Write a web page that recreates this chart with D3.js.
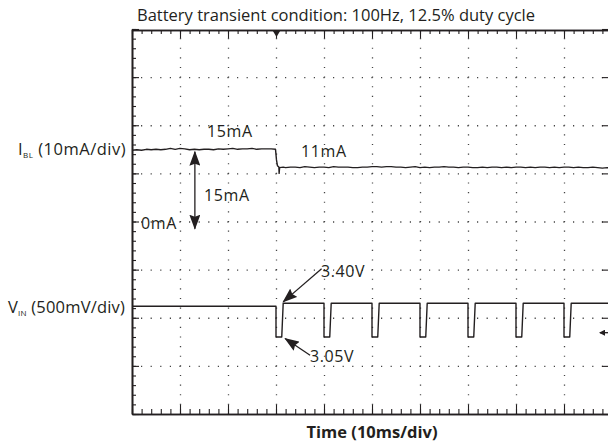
<!DOCTYPE html>
<html lang="en">
<head>
<meta charset="UTF-8">
<title>Battery transient condition</title>
<script src="https://d3js.org/d3.v7.min.js"></script>
<style>
    body { margin: 0; background: #fff; }
    svg text { font-family: "Open Sans", sans-serif; font-size: 16.5px; fill: #231f20; }
    .note { font-size: 16px; letter-spacing: 0.6px; }
    .chan { letter-spacing: 0.5px; }
    .frame path.domain { stroke: #231f20; stroke-width: 1.6; }
    .frame line { stroke: #231f20; stroke-width: 1.1; }
    .grid line { stroke: #444; stroke-width: 1.3; }
    .trace { fill: none; stroke: #231f20; stroke-width: 1.4; stroke-linejoin: round; }
    .arrow { stroke: #231f20; stroke-width: 1.3; fill: none; }
</style>
</head>
<body>
<svg id="scope" width="608" height="446"></svg>
<script>
// time base: 10ms/div, 10 divisions
const timeTicks = [0, 10, 20, 30, 40, 50, 60, 70, 80, 90, 100];
// vertical divisions, -4 .. +4
const divTicks = [-4, -3, -2, -1, 0, 1, 2, 3, 4];

// I_BL trace, [time ms, current mA] (10mA/div)
const currentTrace = [
    [0, 14.8], [1, 14.9], [2, 14.8], [3, 15.0], [4, 14.9], [5, 15.0], [6, 14.9], [7, 15.0],
    [8, 15.2], [9, 15.0], [10, 15.2], [11, 15.1], [12, 14.9], [13, 15.0], [14, 14.9], [15, 15.0],
    [16, 15.0], [17, 14.9], [18, 15.1], [19, 15.0], [20, 15.1], [21, 15.2], [22, 15.0], [23, 15.1],
    [24, 15.1], [25, 15.2], [26, 15.0], [27, 15.1], [28, 15.1], [29, 15.1], [29.9, 15.0],
    [30.1, 12.8], [30.3, 11.6], [30.6, 11.3], [30.65, 10.0], [30.75, 11.2], [31.5, 11.3],
    [32, 11.2], [33, 11.3], [34, 11.3], [35, 11.2], [36, 11.4], [37, 11.3], [38, 11.2], [39, 11.3],
    [40, 11.3], [41, 11.2], [42, 11.4], [43, 11.3], [44, 11.3], [45, 11.3], [46, 11.2], [47, 11.2],
    [48, 11.3], [49, 11.3], [50, 11.4], [51, 11.4], [52, 11.3], [53, 11.4], [54, 11.4], [55, 11.3],
    [56, 11.3], [57, 11.2], [58, 11.3], [59, 11.4], [60, 11.2], [61, 11.3], [62, 11.2], [63, 11.3],
    [64, 11.3], [65, 11.4], [66, 11.3], [67, 11.3], [68, 11.2], [69, 11.3], [70, 11.3], [71, 11.2],
    [72, 11.2], [73, 11.3], [74, 11.2], [75, 11.3], [76, 11.3], [77, 11.2], [78, 11.3], [79, 11.2],
    [80, 11.3], [81, 11.3], [82, 11.2], [83, 11.3], [84, 11.2], [85, 11.3], [86, 11.3], [87, 11.2],
    [88, 11.3], [89, 11.2], [90, 11.3], [91, 11.3], [92, 11.2], [93, 11.3], [94, 11.2], [95, 11.2],
    [96, 11.3], [97, 11.2], [98, 11.1], [99, 11.2], [100, 11.1]
];

// V_IN: idle level, then 100Hz pulses from 3.40V down to 3.05V (500mV/div)
const vIdle = 3.37;
const vHigh = 3.40;
const vLow = 3.05;
const pulseStarts = [30, 40, 50, 60, 70, 80, 90];
const pulseLow = 1.2;   // ms spent at vLow
const pulseRise = 0.3;  // ms of rising edge

const svg = d3.select("#scope");
const plotLeft = 132, plotRight = 612, plotTop = 30, plotBottom = 414;

const x = d3.scaleLinear().domain([0, 100]).range([plotLeft, plotRight]);
const yDiv = d3.scaleLinear().domain([-4, 4]).range([plotBottom, plotTop - 1]);
const yI = d3.scaleLinear().domain([-40, 40]).range([plotBottom, plotTop - 1]);
const yV = d3.scaleLinear().domain([2.25, 6.25]).range([plotBottom, plotTop - 1]);

// dotted graticule, one dot per minor division
const grid = svg.append("g").attr("class", "grid");
grid.selectAll(".gx")
    .data(timeTicks.slice(1, -1))
    .enter().append("line")
    .attr("x1", d => x(d) + 0.5).attr("x2", d => x(d) + 0.5)
    .attr("y1", plotBottom).attr("y2", plotTop)
    .attr("stroke-dasharray", "1.2 " + ((plotBottom - plotTop + 1) / 40 - 1.2))
    .attr("stroke-dashoffset", 0.6);
grid.selectAll(".gy")
    .data(divTicks.slice(1, -1))
    .enter().append("line")
    .attr("y1", d => yDiv(d) + 0.5).attr("y2", d => yDiv(d) + 0.5)
    .attr("x1", plotLeft).attr("x2", plotRight)
    .attr("stroke-dasharray", "1.2 " + ((plotRight - plotLeft) / 50 - 1.2))
    .attr("stroke-dashoffset", 0.6);

// frame with inward ticks
const minorT = d3.range(0, 101, 2);
const minorDiv = d3.range(-40, 41, 2).map(d => d / 10);
const frame = svg.append("g").attr("class", "frame");

function edge(axis, tx, ty) {
    frame.append("g")
        .attr("transform", "translate(" + tx + "," + ty + ")")
        .call(axis.tickSizeOuter(0).tickFormat(""));
}
edge(d3.axisBottom(x).tickValues(minorT).tickSize(4), 0, plotTop);
edge(d3.axisBottom(x).tickValues(timeTicks).tickSize(8), 0, plotTop);
edge(d3.axisTop(x).tickValues(minorT).tickSize(5), 0, plotBottom);
edge(d3.axisTop(x).tickValues(timeTicks).tickSize(9), 0, plotBottom);
edge(d3.axisRight(yDiv).tickValues(minorDiv).tickSize(4), plotLeft, 0);
edge(d3.axisRight(yDiv).tickValues(divTicks).tickSize(7), plotLeft, 0);
edge(d3.axisLeft(yDiv).tickValues(divTicks).tickSize(10), plotRight, 0);

// arrow heads
const defs = svg.append("defs");
defs.append("marker")
    .attr("id", "head")
    .attr("markerUnits", "userSpaceOnUse")
    .attr("markerWidth", 15).attr("markerHeight", 11)
    .attr("refX", 14).attr("refY", 5.5)
    .attr("orient", "auto-start-reverse")
    .append("path")
    .attr("d", "M0,0 L15,5.5 L0,11 L2,5.5 Z")
    .attr("fill", "#231f20");
defs.append("marker")
    .attr("id", "headSmall")
    .attr("markerUnits", "userSpaceOnUse")
    .attr("markerWidth", 6).attr("markerHeight", 6)
    .attr("refX", 5).attr("refY", 3)
    .attr("orient", "auto-start-reverse")
    .append("path")
    .attr("d", "M0,0 L6,3 L0,6 Z")
    .attr("fill", "#231f20");

// trigger marker on top edge
svg.append("path")
    .attr("d", d3.symbol(d3.symbolTriangle, 22)())
    .attr("transform", "translate(" + (x(30) + 0.5) + "," + (plotTop + 3) + ") rotate(180)")
    .attr("fill", "#231f20");

// channel reference arrow on the right edge
svg.append("path")
    .attr("d", "M" + (plotRight - 12) + "," + (yV(3.10) + 0.5) + "h12")
    .attr("class", "arrow")
    .attr("marker-start", "url(#headSmall)");

// traces
const iLine = d3.line().x(d => x(d[0])).y(d => yI(d[1]));
svg.append("path")
    .datum(currentTrace)
    .attr("class", "trace")
    .attr("d", iLine);

const vPoints = [[0, vIdle], [pulseStarts[0], vIdle]];
pulseStarts.forEach(t => {
    if (t !== pulseStarts[0]) vPoints.push([t, vHigh]);
    vPoints.push([t, vLow], [t + pulseLow, vLow], [t + pulseLow + pulseRise, vHigh]);
});
vPoints.push([100, vHigh]);
const vLine = d3.line().x(d => x(d[0])).y(d => yV(d[1]));
svg.append("path")
    .datum(vPoints)
    .attr("class", "trace")
    .attr("d", vLine);

// annotation arrows
svg.append("line")
    .attr("class", "arrow")
    .attr("x1", x(13.1)).attr("x2", x(13.1))
    .attr("y1", yI(14.5)).attr("y2", yI(-1.5))
    .attr("marker-start", "url(#head)")
    .attr("marker-end", "url(#head)");
svg.append("line")
    .attr("class", "arrow")
    .attr("x1", x(39.5)).attr("y1", yV(3.76))
    .attr("x2", x(31.5)).attr("y2", yV(3.415))
    .attr("marker-end", "url(#head)");
svg.append("line")
    .attr("class", "arrow")
    .attr("x1", x(37.1)).attr("y1", yV(2.86))
    .attr("x2", x(31.9)).attr("y2", yV(3.035))
    .attr("marker-end", "url(#head)");

// texts
svg.append("text")
    .attr("x", 137).attr("y", 21)
    .text("Battery transient condition: 100Hz, 12.5% duty cycle");

const iLabel = svg.append("text").attr("class", "chan").attr("x", 18).attr("y", 155);
iLabel.append("tspan").text("I");
iLabel.append("tspan").attr("dy", 3).style("font-size", "8px").text("BL");
iLabel.append("tspan").attr("dy", -3).text(" (10mA/div)");

const vLabel = svg.append("text").attr("x", 8).attr("y", 313).style("letter-spacing", "0.2px");
vLabel.append("tspan").text("V");
vLabel.append("tspan").attr("dy", 3).style("font-size", "8px").text("IN");
vLabel.append("tspan").attr("dy", -3).text(" (500mV/div)");

const notes = [
    { t: "15mA", x: 207, y: 137 },
    { t: "11mA", x: 301, y: 157 },
    { t: "15mA", x: 204, y: 201 },
    { t: "0mA", x: 141, y: 229 },
    { t: "3.40V", x: 321, y: 277 },
    { t: "3.05V", x: 310, y: 362 }
];
svg.selectAll(".note")
    .data(notes)
    .enter().append("text")
    .attr("class", "note")
    .attr("x", d => d.x).attr("y", d => d.y)
    .text(d => d.t);

svg.append("text")
    .attr("x", (plotLeft + plotRight) / 2).attr("y", 438)
    .attr("text-anchor", "middle")
    .style("font-weight", "bold")
    .text("Time (10ms/div)");
</script>
</body>
</html>
